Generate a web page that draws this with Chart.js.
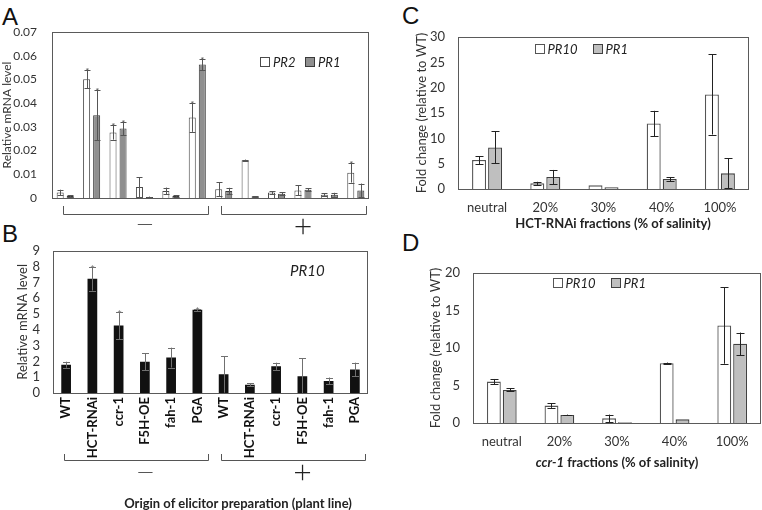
<!DOCTYPE html>
<html>
<head>
<meta charset="utf-8">
<script src="https://cdn.jsdelivr.net/npm/chart.js@4.4.0/dist/chart.umd.min.js"></script>
<style>
    body { margin: 0; background: #fff; width: 762px; height: 510px; position: relative; overflow: hidden; }
    canvas { position: absolute; }
    .letter { position: absolute; font: 24px 'Liberation Sans', Arial, sans-serif; line-height: 24px; color: #111; }
    .xtitle { position: absolute; font: bold 13px Lato, sans-serif; line-height: 16px; color: #222; white-space: nowrap; transform: translateX(-50%); }
</style>
</head>
<body>
<div class="letter" style="left:2px;top:5px">A</div>
<div class="letter" style="left:2px;top:222px">B</div>
<div class="letter" style="left:402px;top:4px">C</div>
<div class="letter" style="left:402px;top:231px">D</div>

<canvas id="chartA" width="380" height="240" style="left:0;top:0"></canvas>
<canvas id="chartB" width="380" height="280" style="left:0;top:230px"></canvas>
<canvas id="chartC" width="382" height="250" style="left:380px;top:0"></canvas>
<canvas id="chartD" width="382" height="260" style="left:380px;top:250px"></canvas>

<div class="xtitle" style="left:238px;top:495px">Origin of elicitor preparation (plant line)</div>
<div class="xtitle" style="left:613px;top:215px">HCT-RNAi fractions (% of salinity)</div>
<div class="xtitle" style="left:617px;top:454px"><i>ccr-1</i> fractions (% of salinity)</div>

<script>
// plant lines (6 without, 6 with treatment)
const plantLines = ['WT', 'HCT-RNAi', 'ccr-1', 'F5H-OE', 'fah-1', 'PGA',
                    'WT', 'HCT-RNAi', 'ccr-1', 'F5H-OE', 'fah-1', 'PGA'];
const fractions = ['neutral', '20%', '30%', '40%', '100%'];

// panel A - relative mRNA level
const aPR2    = [0.0023, 0.0501, 0.0276, 0.0046, 0.0030, 0.0339, 0.0037, 0.0159, 0.0023, 0.0032, 0.0014, 0.0107];
const aPR2Err = [0.0012, 0.0038, 0.0030, 0.0042, 0.0014, 0.0060, 0.0030, 0.0003, 0.0006, 0.0021, 0.0005, 0.0042];
const aPR2Sig = [0, 1, 1, 0, 0, 1, 0, 0, 0, 0, 0, 1];
const aPR1    = [0.0008, 0.0349, 0.0293, 0.0004, 0.0008, 0.0563, 0.0030, 0.0007, 0.0018, 0.0035, 0.0014, 0.0032];
const aPR1Err = [0.0003, 0.0105, 0.0028, 0.0002, 0.0003, 0.0025, 0.0013, 0.0001, 0.0007, 0.0007, 0.0008, 0.0029];
const aPR1Sig = [0, 1, 1, 0, 0, 1, 0, 0, 0, 0, 0, 0];

// panel B - PR10
const bPR10    = [1.79, 7.23, 4.27, 1.98, 2.24, 5.27, 1.18, 0.53, 1.69, 1.06, 0.76, 1.49];
const bPR10Err = [0.19, 0.75, 0.86, 0.55, 0.63, 0.07, 1.16, 0.08, 0.23, 1.14, 0.22, 0.43];
const bPR10Sig = [0, 1, 1, 0, 0, 1, 0, 0, 0, 0, 0, 0];

// panel C - HCT-RNAi fractions
const cPR10    = [5.71, 1.12, 0.72, 12.93, 18.65];
const cPR10Err = [0.8, 0.3, 0, 2.5, 7.9];
const cPR1     = [8.2, 2.36, 0.33, 1.97, 3.09];
const cPR1Err  = [3.15, 1.4, 0, 0.4, 2.95];

// panel D - ccr-1 fractions
const dPR10    = [5.52, 2.32, 0.62, 7.98, 13.0];
const dPR10Err = [0.35, 0.3, 0.5, 0.08, 5.1];
const dPR1     = [4.41, 1.07, 0.1, 0.49, 10.56];
const dPR1Err  = [0.2, 0.05, 0, 0, 1.5];

const FONT = 'Lato, sans-serif';

// error bars, asterisks, frame, legend and brackets
const decorPlugin = {
    id: 'decor',
    afterDatasetsDraw(chart, args, opts) {
        const { ctx, chartArea: area } = chart;
        const y = chart.scales.y;
        ctx.save();
        chart.data.datasets.forEach((ds, di) => {
            if (!ds.errors) return;
            const meta = chart.getDatasetMeta(di);
            meta.data.forEach((bar, i) => {
                const v = ds.data[i], e = ds.errors[i];
                const x = Math.round(bar.x) + 0.5;
                const top = y.getPixelForValue(v + e);
                if (e > 0) {
                    const bot = y.getPixelForValue(Math.max(v - e, 0));
                    ctx.strokeStyle = opts.errColor;
                    ctx.lineWidth = 1;
                    ctx.beginPath();
                    ctx.moveTo(x, top); ctx.lineTo(x, bot);
                    ctx.moveTo(x - opts.cap, Math.round(top) + 0.5); ctx.lineTo(x + opts.cap, Math.round(top) + 0.5);
                    ctx.moveTo(x - opts.cap, Math.round(bot) + 0.5); ctx.lineTo(x + opts.cap, Math.round(bot) + 0.5);
                    ctx.stroke();
                }
                if (ds.stars && ds.stars[i]) {
                    ctx.fillStyle = opts.errColor;
                    ctx.font = opts.starFont;
                    ctx.textAlign = 'center';
                    ctx.textBaseline = 'alphabetic';
                    ctx.fillText('*', x, top + opts.starDy);
                }
            });
        });
        // box round the plot
        ctx.strokeStyle = '#5a5a5a';
        ctx.lineWidth = 1;
        ctx.strokeRect(Math.round(area.left) + 0.5, Math.round(area.top) + 0.5,
                       Math.round(area.right - area.left) - 1, Math.round(area.bottom - area.top));
        ctx.restore();
    },
    afterDraw(chart, args, opts) {
        const ctx = chart.ctx;
        ctx.save();
        if (opts.legend) {
            const lg = opts.legend;
            chart.data.datasets.forEach((ds, i) => {
                const lx = lg.xs[i];
                ctx.fillStyle = ds.backgroundColor;
                ctx.strokeStyle = ds.borderColor;
                ctx.lineWidth = 1;
                ctx.fillRect(lx + 0.5, lg.y - 4.5, 9, 9);
                ctx.strokeRect(lx + 0.5, lg.y - 4.5, 9, 9);
                ctx.fillStyle = '#222';
                ctx.font = 'italic 13px ' + FONT;
                ctx.textAlign = 'left';
                ctx.textBaseline = 'middle';
                ctx.fillText(ds.label, lx + lg.gap, lg.y + 0.5);
            });
        }
        if (opts.label) {
            ctx.fillStyle = '#222';
            ctx.font = 'italic 15px ' + FONT;
            ctx.textAlign = 'left';
            ctx.textBaseline = 'middle';
            ctx.fillText(opts.label.text, opts.label.x, opts.label.y);
        }
        if (opts.brackets) {
            const x = chart.scales.x;
            const cw = x.getPixelForValue(1) - x.getPixelForValue(0);
            const br = opts.brackets;
            br.groups.forEach(g => {
                const l = Math.round(x.getPixelForValue(g.from) - 0.1 * cw) + 0.5;
                const r = Math.round(x.getPixelForValue(g.to) + 0.4 * cw) + 0.5;
                ctx.strokeStyle = '#555';
                ctx.lineWidth = 1;
                ctx.beginPath();
                ctx.moveTo(l, br.y - br.tip); ctx.lineTo(l, br.y + 0.5);
                ctx.lineTo(r, br.y + 0.5); ctx.lineTo(r, br.y - br.tip);
                ctx.stroke();
                ctx.fillStyle = '#222';
                ctx.font = g.font;
                ctx.textAlign = 'center';
                ctx.textBaseline = 'middle';
                ctx.fillText(g.sign, (l + r) / 2 + 9, g.signY);
            });
        }
        ctx.restore();
    }
};
Chart.register(decorPlugin);

function yScale(max, step, title, pad, width, size) {
    return {
        min: 0,
        max: max,
        ticks: { stepSize: step, autoSkip: false, padding: pad, color: '#333', font: { family: FONT, size: size } },
        grid: { display: false, drawTicks: false },
        border: { display: false },
        title: { display: true, text: title, padding: 0, color: '#333', font: { family: FONT, size: size } },
        afterFit: s => { s.width = width; }
    };
}

function fractionScale() {
    return {
        grid: { display: false, drawTicks: false },
        border: { display: false },
        ticks: { padding: 11, color: '#333', font: { family: FONT, size: 13 } },
        afterFit: s => { s.height = 30; }
    };
}

const noLegend = { legend: { display: false }, tooltip: { enabled: false } };

// A
new Chart(document.getElementById('chartA'), {
    type: 'bar',
    data: {
        labels: plantLines,
        datasets: [
            { label: 'PR2', data: aPR2, errors: aPR2Err, stars: aPR2Sig, backgroundColor: '#ffffff', borderColor: '#4a4a4a', borderWidth: 1 },
            { label: 'PR1', data: aPR1, errors: aPR1Err, stars: aPR1Sig, backgroundColor: '#8f8f8f', borderColor: '#3a3a3a', borderWidth: 1 }
        ]
    },
    options: {
        responsive: false,
        animation: false,
        layout: { padding: { left: 0, top: 32, right: 11, bottom: 42 } },
        datasets: { bar: { categoryPercentage: 0.76, barPercentage: 0.7 } },
        plugins: {
            ...noLegend,
            decor: {
                errColor: '#555', cap: 3, starFont: '10px ' + FONT, starDy: 5,
                legend: { xs: [260, 305], y: 62, gap: 13 },
                brackets: {
                    y: 214, tip: 8,
                    groups: [
                        { from: 0, to: 5, sign: '\u2014', signY: 224, font: '300 22px ' + FONT },
                        { from: 6, to: 11, sign: '+', signY: 227, font: '300 32px ' + FONT }
                    ]
                }
            }
        },
        scales: {
            x: { display: false },
            y: yScale(0.07, 0.01, 'Relative mRNA level', 15, 52, 12)
        }
    }
});

// B
new Chart(document.getElementById('chartB'), {
    type: 'bar',
    data: {
        labels: plantLines,
        datasets: [
            { label: 'PR10', data: bPR10, errors: bPR10Err, stars: bPR10Sig, backgroundColor: '#111111', borderColor: '#111111', borderWidth: 0 }
        ]
    },
    options: {
        responsive: false,
        animation: false,
        layout: { padding: { left: 15, top: 13, right: 12, bottom: 47 } },
        datasets: { bar: { categoryPercentage: 1, barPercentage: 0.37 } },
        plugins: {
            ...noLegend,
            decor: {
                errColor: '#707070', cap: 3.5, starFont: '12px ' + FONT, starDy: 7,
                label: { text: 'PR10', x: 290, y: 41 },
                brackets: {
                    y: 230, tip: 6,
                    groups: [
                        { from: 0, to: 5, sign: '\u2014', signY: 242, font: '300 22px ' + FONT },
                        { from: 6, to: 11, sign: '+', signY: 243, font: '300 32px ' + FONT }
                    ]
                }
            }
        },
        scales: {
            x: {
                grid: { display: false, drawTicks: false },
                border: { display: false },
                ticks: { minRotation: 90, maxRotation: 90, autoSkip: false, padding: 4, color: '#111', font: { family: FONT, size: 13, weight: 'bold' } },
                afterFit: s => { s.height = 70; }
            },
            y: yScale(9, 1, 'Relative mRNA level', 13, 38, 13)
        }
    }
});

// C
new Chart(document.getElementById('chartC'), {
    type: 'bar',
    data: {
        labels: fractions,
        datasets: [
            { label: 'PR10', data: cPR10, errors: cPR10Err, backgroundColor: '#ffffff', borderColor: '#555555', borderWidth: 1.3 },
            { label: 'PR1', data: cPR1, errors: cPR1Err, backgroundColor: '#bfbfbf', borderColor: '#404040', borderWidth: 1.3 }
        ]
    },
    options: {
        responsive: false,
        animation: false,
        layout: { padding: { left: 34, top: 37, right: 13, bottom: 31 } },
        datasets: { bar: { categoryPercentage: 0.55, barPercentage: 0.875 } },
        plugins: {
            ...noLegend,
            decor: { errColor: '#222', cap: 4, legend: { xs: [155, 213], y: 49, gap: 12.5 } }
        },
        scales: {
            x: fractionScale(),
            y: yScale(30, 5, 'Fold change (relative to WT)', 13, 44, 13)
        }
    }
});

// D
new Chart(document.getElementById('chartD'), {
    type: 'bar',
    data: {
        labels: fractions,
        datasets: [
            { label: 'PR10', data: dPR10, errors: dPR10Err, backgroundColor: '#ffffff', borderColor: '#555555', borderWidth: 1.3 },
            { label: 'PR1', data: dPR1, errors: dPR1Err, backgroundColor: '#bfbfbf', borderColor: '#404040', borderWidth: 1.3 }
        ]
    },
    options: {
        responsive: false,
        animation: false,
        layout: { padding: { left: 48, top: 23, right: 1, bottom: 57 } },
        datasets: { bar: { categoryPercentage: 0.55, barPercentage: 0.875 } },
        plugins: {
            ...noLegend,
            decor: { errColor: '#222', cap: 4, legend: { xs: [173, 231], y: 33, gap: 12.5 } }
        },
        scales: {
            x: fractionScale(),
            y: yScale(20, 5, 'Fold change (relative to WT)', 13, 45, 13)
        }
    }
});
</script>
</body>
</html>
